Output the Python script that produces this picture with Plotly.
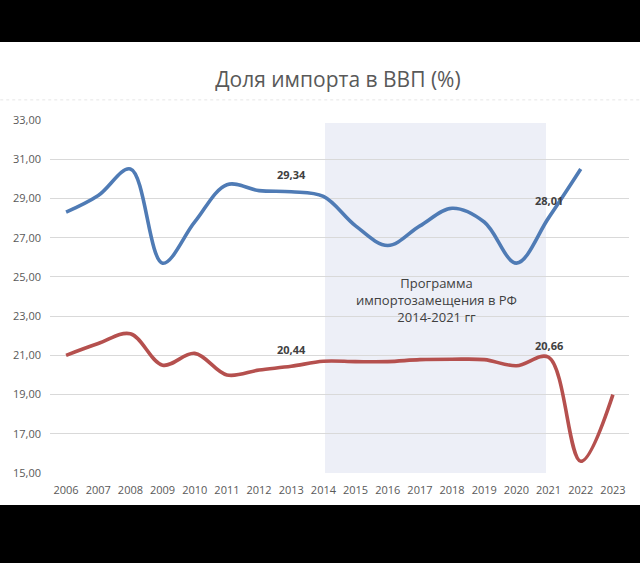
import plotly.graph_objects as go

# data
years = list(range(2006, 2024))
import_blue = [28.3, 29.15, 30.5, 25.7, 27.8, 29.7, 29.4, 29.34, 29.1, 27.6,
               26.6, 27.6, 28.5, 27.8, 25.7, 28.01, 30.5, None]
import_red = [21.0, 21.6, 22.1, 20.5, 21.1, 20.0, 20.25, 20.44, 20.7, 20.68,
              20.68, 20.78, 20.8, 20.78, 20.47, 20.9, 15.6, 19.0]
y_ticks = [15, 17, 19, 21, 23, 25, 27, 29, 31, 33]

# point labels: (year, value, text)
blue_labels = [(2013, 29.34, '29,34'), (2021, 28.01, '28,01')]
red_labels = [(2013, 20.44, '20,44'), (2021, 20.66, '20,66')]

program_start, program_end = 2014.05, 2020.92
program_text = 'Программа<br>импортозамещения в РФ<br>2014-2021 гг'

BLUE = '#4F7BB5'
RED = '#B5504E'
TXT = '#595959'

fig = go.Figure()

fig.add_trace(go.Scatter(
    x=years, y=import_blue, mode='lines',
    line=dict(color=BLUE, width=3.6, shape='spline', smoothing=1.0),
    connectgaps=False, hoverinfo='skip'))
fig.add_trace(go.Scatter(
    x=years, y=import_red, mode='lines',
    line=dict(color=RED, width=3.6, shape='spline', smoothing=1.0),
    hoverinfo='skip'))

# shaded period of the programme
fig.add_shape(type='rect', xref='x', yref='y',
              x0=program_start, x1=program_end, y0=15, y1=32.85,
              fillcolor='#EDEFF7', line_width=0, layer='below')

# white canvas between the black bars
fig.add_shape(type='rect', xref='paper', yref='paper',
              x0=-0.09, x1=1.03, y0=-0.0907, y1=1.221,
              fillcolor='white', line_width=0, layer='below')
# faint dotted line under the title
fig.add_shape(type='line', xref='paper', yref='paper',
              x0=-0.086, x1=1.019, y0=1.057, y1=1.057,
              line=dict(color='#E6E6E6', width=1, dash='dot'))

for yr, val, txt in blue_labels + red_labels:
    fig.add_annotation(x=yr, y=val, text='<b>' + txt + '</b>', showarrow=False,
                       yshift=17, font=dict(size=11, color='#404040'))

fig.add_annotation(x=2017.5, y=20.8, text=program_text, showarrow=False,
                   yanchor='bottom', yshift=31,
                   font=dict(size=13, color='#404040'))

fig.update_layout(
    width=640, height=563,
    margin=dict(l=50, r=11, t=120, b=90),
    paper_bgcolor='black', plot_bgcolor='rgba(0,0,0,0)',
    separators=', ',
    showlegend=False,
    font=dict(family='Open Sans, DejaVu Sans, sans-serif', color=TXT),
    title=dict(text='Доля импорта в ВВП (%)', x=0.528, xanchor='center',
               y=0.858, yanchor='middle',
               font=dict(size=21, color=TXT)),
)

fig.update_xaxes(range=[2005.5, 2023.5], tickvals=years,
                 ticktext=[str(y) for y in years],
                 showgrid=False, zeroline=False, showline=False,
                 tickfont=dict(size=11, color=TXT), ticks='',
                 ticklabelstandoff=9)
fig.update_yaxes(range=[15, 33], tickvals=y_ticks, tickformat='.2f',
                 showgrid=True, gridcolor='#D9D9D9', gridwidth=1,
                 zeroline=False, showline=False,
                 tickfont=dict(size=11, color=TXT), ticklabelstandoff=8)

# page has a default 8px body margin; drop it so the figure sits at 0,0
fig.write_html("out.html", config={'displayModeBar': False},
               post_script="document.body.style.margin='0';")
